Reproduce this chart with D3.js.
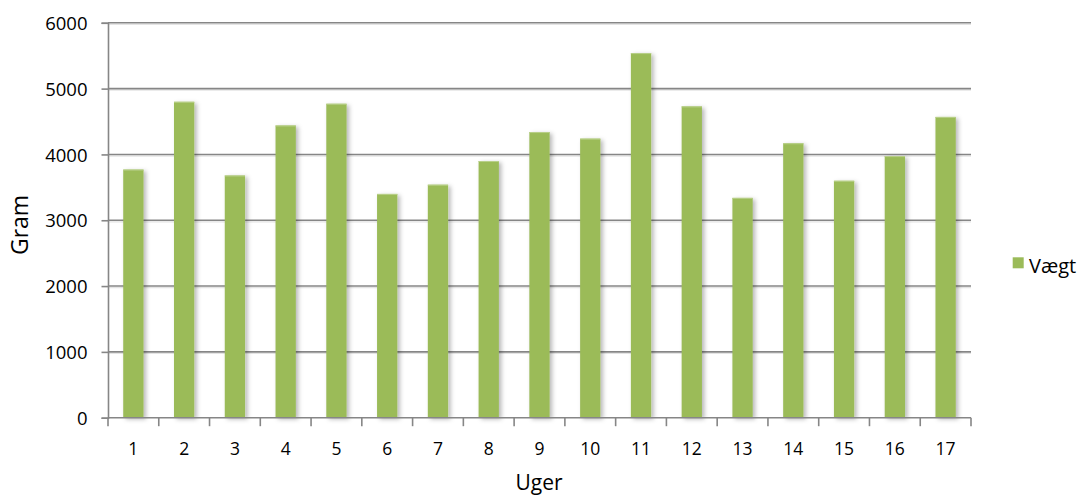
<!DOCTYPE html>
<html>
<head>
<meta charset="utf-8">
<script src="https://cdn.jsdelivr.net/npm/d3@7"></script>
<style>
  html, body { margin: 0; padding: 0; background: #fff; }
  svg { display: block; }
  text { font-family: "Open Sans", "Liberation Sans", sans-serif; fill: #000; }
</style>
</head>
<body>
<svg id="chart" width="1078" height="497"></svg>
<script>
// Weekly weight in grams
const weeks = ["1","2","3","4","5","6","7","8","9","10","11","12","13","14","15","16","17"];
const weight = [3770, 4800, 3680, 4440, 4770, 3400, 3540, 3900, 4340, 4240, 5540, 4730, 3340, 4170, 3600, 3975, 4570];
const yTicks = [0, 1000, 2000, 3000, 4000, 5000, 6000];
const seriesName = "Vægt";
const xTitle = "Uger";
const yTitle = "Gram";

const svg = d3.select("#chart");
const plotLeft = 108, plotRight = 971, plotTop = 22.8, plotBottom = 417.7;
const barColor = "#9BBB59";
const gridColor = "#868686";

const defs = svg.append("defs");
const f = defs.append("filter").attr("id", "barShadow")
  .attr("x", "-30%").attr("y", "-10%").attr("width", "180%").attr("height", "120%");
f.append("feDropShadow").attr("dx", 2.5).attr("dy", 1.5).attr("stdDeviation", 2.2)
  .attr("flood-color", "#000").attr("flood-opacity", 0.28);

const x = d3.scaleBand().domain(weeks).range([plotLeft, plotRight]).paddingInner(0.6).paddingOuter(0.3);
const xb = d3.scaleBand().domain(weeks).range([plotLeft, plotRight]);
const y = d3.scaleLinear().domain([0, 6000]).range([plotBottom, plotTop]);

// Horizontal gridlines with a faint light line underneath
const grid = svg.append("g");
grid.selectAll("line.shade").data(yTicks.filter(d => d > 0)).join("line")
  .attr("class", "shade")
  .attr("x1", plotLeft).attr("x2", plotRight)
  .attr("y1", d => y(d) + 1.6).attr("y2", d => y(d) + 1.6)
  .attr("stroke", "#e4e4e4").attr("stroke-width", 1.2);
grid.selectAll("line.main").data(yTicks.filter(d => d > 0)).join("line")
  .attr("class", "main")
  .attr("x1", plotLeft).attr("x2", plotRight)
  .attr("y1", d => y(d)).attr("y2", d => y(d))
  .attr("stroke", gridColor).attr("stroke-width", 1.6);

// Bars
svg.append("g").selectAll("rect").data(weight).join("rect")
  .attr("x", (d, i) => x(weeks[i]))
  .attr("y", d => y(d))
  .attr("width", x.bandwidth())
  .attr("height", d => plotBottom - y(d))
  .attr("fill", barColor)
  .attr("filter", "url(#barShadow)");
svg.append("g").selectAll("line").data(weight).join("line")
  .attr("x1", (d, i) => x(weeks[i])).attr("x2", (d, i) => x(weeks[i]) + x.bandwidth())
  .attr("y1", d => y(d) + 0.5).attr("y2", d => y(d) + 0.5)
  .attr("stroke", "#b9d08a").attr("stroke-width", 1);

// Y axis
const yAxis = d3.axisLeft(y).tickValues(yTicks).tickSize(6.5).tickPadding(14).tickFormat(d3.format("d"));
const gy = svg.append("g").attr("transform", `translate(${plotLeft},0)`).call(yAxis);
gy.select(".domain").attr("stroke", gridColor).attr("stroke-width", 1.6);
gy.selectAll(".tick line").attr("stroke", gridColor).attr("stroke-width", 1.6);
gy.selectAll(".tick text").attr("font-size", 18.5).attr("font-family", "Open Sans").attr("dy", "0.36em");

// X axis: baseline plus tick marks at category boundaries
svg.append("line").attr("x1", plotLeft).attr("x2", plotRight).attr("y1", plotBottom).attr("y2", plotBottom)
  .attr("stroke", gridColor).attr("stroke-width", 1.6);
const bounds = weeks.map(w => xb(w)).concat([plotRight]);
svg.append("g").selectAll("line").data(bounds).join("line")
  .attr("x1", d => d).attr("x2", d => d)
  .attr("y1", plotBottom).attr("y2", plotBottom + 8.5)
  .attr("stroke", gridColor).attr("stroke-width", 1.6);
svg.append("g").selectAll("text").data(weeks).join("text")
  .attr("x", d => xb(d) + xb.bandwidth() / 2)
  .attr("y", 455)
  .attr("text-anchor", "middle")
  .attr("font-size", 17.5)
  .text(d => d);

// Axis titles
svg.append("text").attr("x", 539).attr("y", 490).attr("text-anchor", "middle")
  .attr("font-size", 21).text(xTitle);
svg.append("text").attr("transform", "translate(28,225) rotate(-90)").attr("text-anchor", "middle")
  .attr("font-size", 23).text(yTitle);

// Legend
svg.append("rect").attr("x", 1012.7).attr("y", 257.3).attr("width", 11).attr("height", 11).attr("fill", barColor);
svg.append("text").attr("x", 1029).attr("y", 273.3).attr("font-size", 20).text(seriesName);
</script>
</body>
</html>
